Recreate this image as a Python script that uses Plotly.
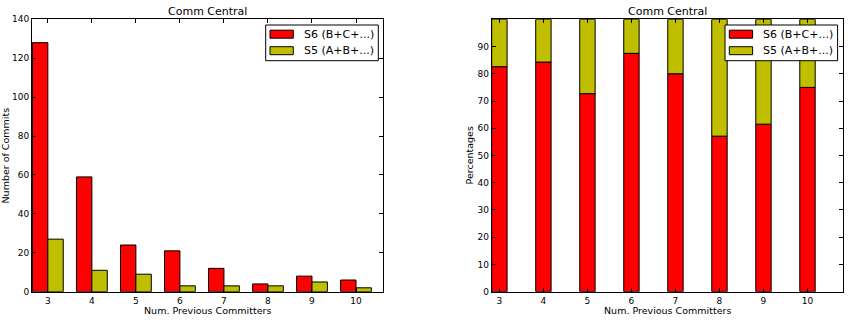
import plotly.graph_objects as go

committers = [3, 4, 5, 6, 7, 8, 9, 10]
tick_labels = ["3", "4", "5", "6", "7", "8", "9", "10"]
s6_commits = [128, 59, 24, 21, 12, 4, 8, 6]
s5_commits = [27, 11, 9, 3, 3, 3, 5, 2]
s6_pct = [82.6, 84.3, 72.7, 87.5, 80.0, 57.1, 61.5, 75.0]
s5_pct = [17.4, 15.7, 27.3, 12.5, 20.0, 42.9, 38.5, 25.0]
pct_ticks = [0, 10, 20, 30, 40, 50, 60, 70, 80, 90]
count_ticks = [0, 20, 40, 60, 80, 100, 120, 140]
series_names = ["S6 (B+C+...)", "S5 (A+B+...)"]

RED = "#ff0000"
YEL = "#bfbf00"
colors = [RED, YEL]
FONT = "DejaVu Sans"
W, H = 858, 322

fig = go.Figure()
line = dict(color="black", width=1)
fig.add_trace(go.Bar(x=committers, y=s6_commits, width=0.35, offset=-0.35,
                     marker=dict(color=RED, line=line), name=series_names[0],
                     xaxis="x", yaxis="y"))
fig.add_trace(go.Bar(x=committers, y=s5_commits, width=0.35, offset=0,
                     marker=dict(color=YEL, line=line), name=series_names[1],
                     xaxis="x", yaxis="y"))
fig.add_trace(go.Bar(x=committers, y=s6_pct, width=0.35, offset=-0.175,
                     marker=dict(color=RED, line=line), name=series_names[0],
                     xaxis="x2", yaxis="y2"))
fig.add_trace(go.Bar(x=committers, y=s5_pct, base=s6_pct, width=0.35, offset=-0.175,
                     marker=dict(color=YEL, line=line), name=series_names[1],
                     xaxis="x2", yaxis="y2"))

ax_common = dict(showline=True, linecolor="black", linewidth=1, mirror="allticks",
                 ticks="inside", ticklen=4, tickcolor="black", showgrid=False,
                 zeroline=False, automargin=False,
                 tickfont=dict(family=FONT, size=9, color="black"))

y0 = (322 - 291.7) / H
y1 = (322 - 19.3) / H

fig.update_layout(
    template="none",
    width=W, height=H, margin=dict(l=0, r=0, t=0, b=0, pad=0),
    paper_bgcolor="white", plot_bgcolor="white",
    barmode="overlay", showlegend=False,
    font=dict(family=FONT, color="black"),
    xaxis=dict(domain=[32 / W, 383.3 / W], range=[2.64, 10.62],
               tickvals=committers, ticktext=tick_labels, **ax_common),
    yaxis=dict(domain=[y0, y1], range=[0, 140], tickvals=count_ticks, **ax_common),
    xaxis2=dict(domain=[491.7 / W, 842.7 / W], range=[2.825, 10.8],
                tickvals=committers, ticktext=tick_labels, anchor="y2", **ax_common),
    yaxis2=dict(domain=[y0, y1], range=[0, 100], tickvals=pct_ticks, anchor="x2", **ax_common),
)

annots = [
    dict(text="Comm Central", x=(32 + 383.3) / 2, y=11.3, size=11, angle=0),
    dict(text="Comm Central", x=(491.7 + 842.7) / 2, y=11.3, size=11, angle=0),
    dict(text="Num. Previous Committers", x=(32 + 383.3) / 2, y=310, size=9.5, angle=0),
    dict(text="Num. Previous Committers", x=(491.7 + 842.7) / 2, y=310, size=9.5, angle=0),
    dict(text="Number of Commits", x=5, y=155.5, size=9.5, angle=-90),
    dict(text="Percentages", x=469, y=155.5, size=9.5, angle=-90),
]
for a in annots:
    fig.add_annotation(text=a["text"], x=a["x"] / W, y=1 - a["y"] / H, xref="paper", yref="paper",
                       xanchor="center", yanchor="middle", showarrow=False,
                       textangle=a["angle"], font=dict(family=FONT, size=a["size"], color="black"))

# legends (matplotlib-style boxes with wide patches)
def px(x):
    return x / W

def py(y):
    return 1 - y / H

for left in (265.7, 725.0):
    right = left + 112.6
    fig.add_shape(type="rect", xref="paper", yref="paper",
                  x0=px(left), x1=px(right), y0=py(60.7), y1=py(25),
                  line=dict(color="black", width=1), fillcolor="white", layer="above")
    for i, (nm, col) in enumerate(zip(series_names, colors)):
        cy = 34.2 + i * 16.5
        fig.add_shape(type="rect", xref="paper", yref="paper",
                      x0=px(left + 4.3), x1=px(left + 27.6), y0=py(cy + 4), y1=py(cy - 4),
                      line=dict(color="black", width=1), fillcolor=col, layer="above")
        fig.add_annotation(text=nm, x=px(left + 36), y=py(cy), xref="paper", yref="paper",
                           xanchor="left", yanchor="middle", showarrow=False,
                           font=dict(family=FONT, size=11, color="black"))

fig.write_html("out.html")
